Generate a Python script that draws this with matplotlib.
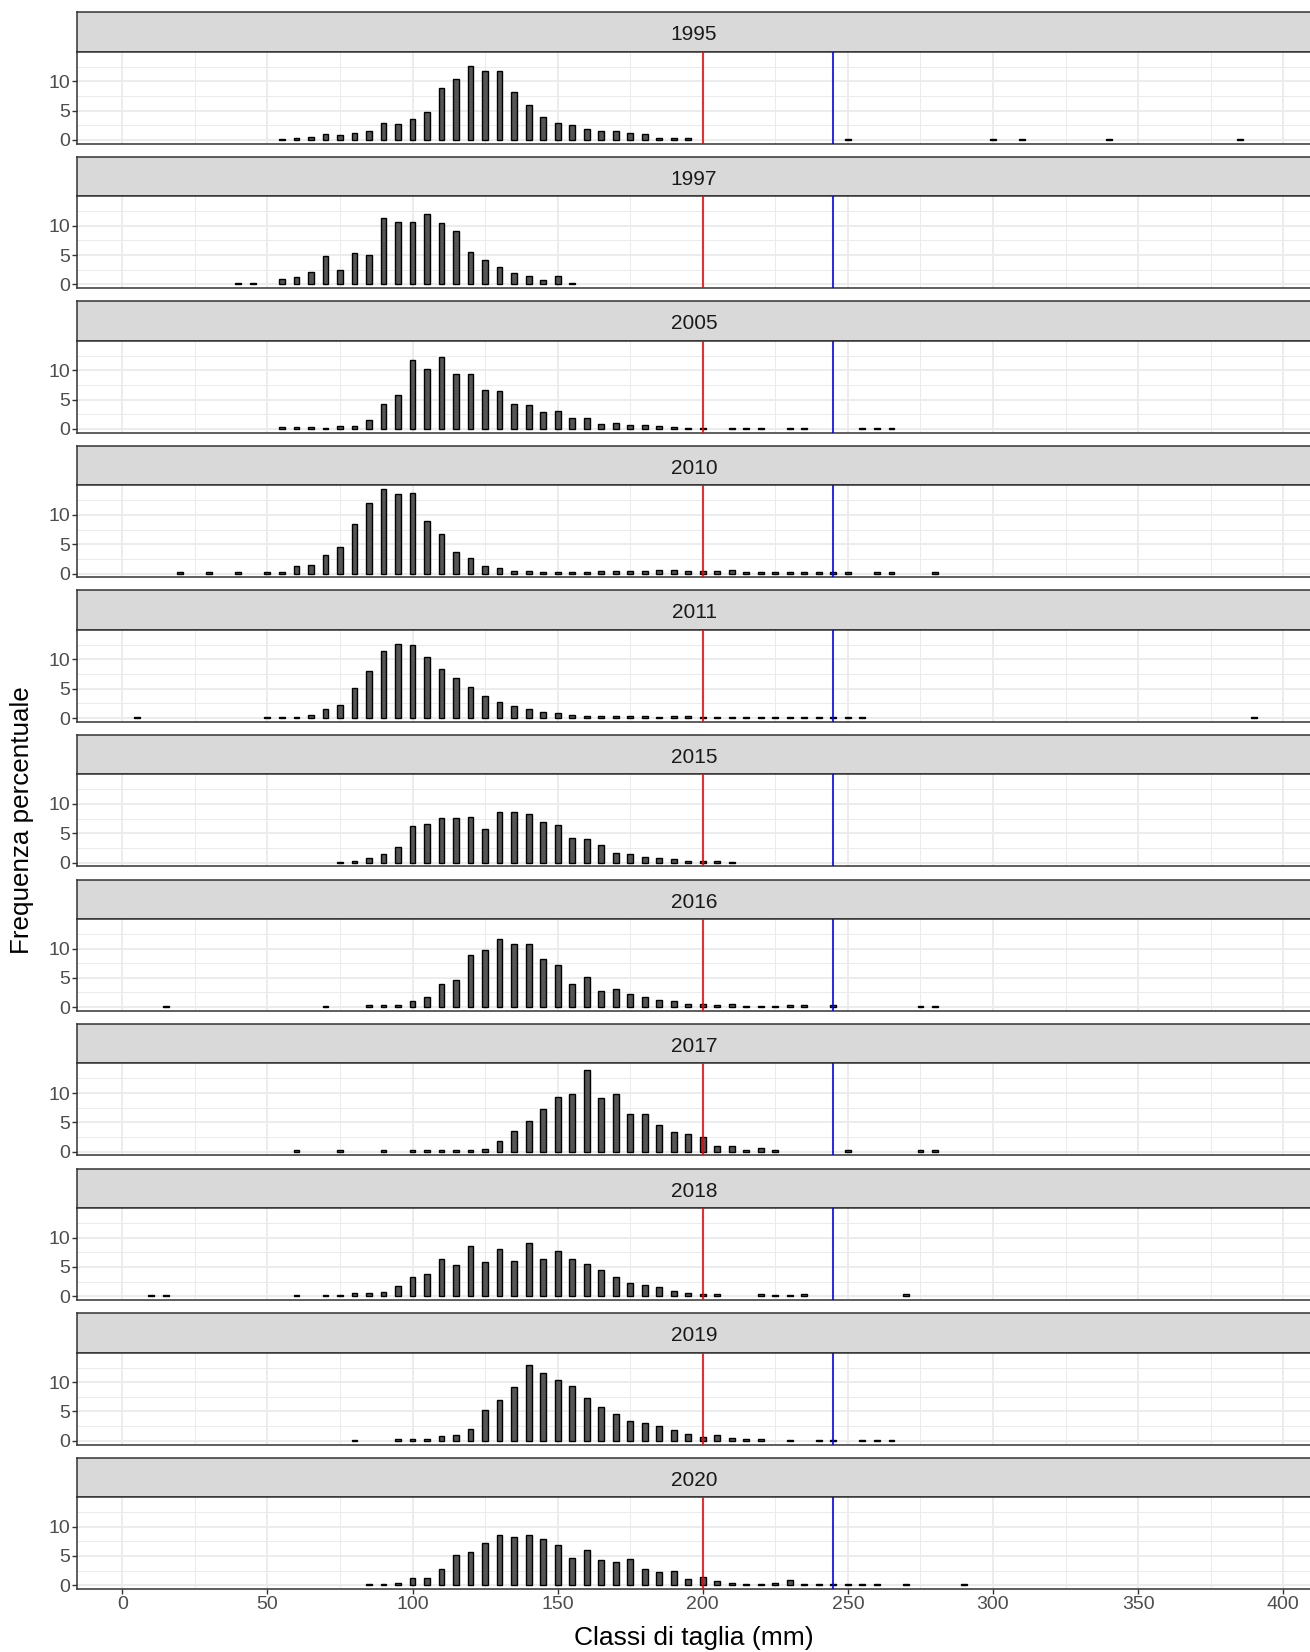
import matplotlib
matplotlib.use("Agg")
import matplotlib.pyplot as plt

# --- dati: classi di taglia (mm) e frequenza percentuale per anno ---
anni = ["1995", "1997", "2005", "2010", "2011", "2015", "2016", "2017", "2018", "2019", "2020"]

classi_1995 = list(range(55, 200, 5)) + [250, 300, 310, 340, 385]
freq_1995 = [0.2, 0.3, 0.5, 1.0, 0.8, 1.2, 1.5, 2.8, 2.7, 3.6, 4.8, 8.8, 10.4, 12.6, 11.8,
             11.8, 8.1, 5.9, 3.9, 2.9, 2.6, 1.8, 1.6, 1.6, 1.1, 1.0, 0.4, 0.4, 0.4,
             0.15, 0.15, 0.15, 0.15, 0.15]

classi_1997 = [40, 45] + list(range(55, 160, 5))
freq_1997 = [0.3, 0.3, 1.0, 1.2, 2.1, 4.8, 2.4, 5.4, 5.0, 11.4, 10.6, 10.7, 12.0, 10.5,
             9.2, 5.6, 4.1, 3.0, 2.0, 1.5, 0.7, 1.5, 0.2]

classi_2005 = list(range(55, 205, 5)) + [210, 215, 220, 230, 235, 255, 260, 265]
freq_2005 = [0.3, 0.3, 0.3, 0.15, 0.45, 0.55, 1.55, 4.3, 5.8, 11.8, 10.3, 12.3, 9.3, 9.4,
             6.6, 6.4, 4.3, 4.1, 2.9, 3.1, 1.9, 1.8, 0.8, 1.0, 0.6, 0.7, 0.5, 0.35, 0.25,
             0.2, 0.2, 0.2, 0.2, 0.2, 0.15, 0.15, 0.15, 0.15]

classi_2010 = [20, 30, 40] + list(range(50, 255, 5)) + [260, 265, 280]
freq_2010 = [0.2, 0.2, 0.2, 0.25, 0.25, 1.2, 1.4, 3.2, 4.5, 8.4, 12.0, 14.5, 13.5, 13.8,
             8.9, 6.8, 3.6, 2.7, 1.25, 0.9, 0.4, 0.5, 0.2, 0.3, 0.3, 0.3, 0.4, 0.5, 0.45,
             0.5, 0.55, 0.55, 0.4, 0.5, 0.4, 0.55, 0.3, 0.3, 0.3, 0.25, 0.3, 0.25, 0.3,
             0.25, 0.2, 0.2, 0.25]

classi_2011 = [5] + list(range(50, 260, 5)) + [390]
freq_2011 = [0.15, 0.2, 0.2, 0.2, 0.6, 1.6, 2.3, 5.1, 8.1, 11.5, 12.6, 12.5, 10.4, 8.4,
             6.9, 5.3, 3.8, 2.8, 2.1, 1.6, 1.1, 0.9, 0.55, 0.4, 0.35, 0.4, 0.35, 0.4,
             0.25, 0.35, 0.35, 0.2, 0.2, 0.2, 0.2, 0.2, 0.2, 0.15, 0.2, 0.2, 0.15, 0.15,
             0.15, 0.15]

classi_2015 = list(range(75, 215, 5))
freq_2015 = [0.1, 0.35, 0.8, 1.4, 2.6, 6.3, 6.6, 7.6, 7.6, 7.8, 5.8, 8.7, 8.6, 8.3, 7.0,
             6.5, 4.2, 4.1, 3.0, 1.6, 1.55, 1.0, 0.8, 0.6, 0.2, 0.2, 0.3, 0.1]

classi_2016 = [15, 70] + list(range(85, 240, 5)) + [245, 275, 280]
freq_2016 = [0.25, 0.25, 0.3, 0.4, 0.4, 1.1, 1.7, 3.9, 4.6, 8.9, 9.7, 11.6, 10.7, 10.8,
             8.2, 7.2, 4.0, 5.1, 2.8, 3.1, 2.3, 1.8, 1.25, 1.1, 0.6, 0.6, 0.4, 0.45, 0.25,
             0.25, 0.25, 0.3, 0.3, 0.4, 0.2, 0.2]

classi_2017 = [60, 75, 90] + list(range(100, 230, 5)) + [250, 275, 280]
freq_2017 = [0.3, 0.3, 0.3, 0.2, 0.3, 0.3, 0.3, 0.3, 0.45, 1.8, 3.5, 5.2, 7.2, 9.3, 9.9,
             13.9, 9.1, 9.9, 6.5, 6.5, 4.6, 3.35, 3.1, 2.55, 0.9, 1.0, 0.3, 0.6, 0.3,
             0.25, 0.2, 0.2]

classi_2018 = [10, 15, 60] + list(range(70, 210, 5)) + [220, 225, 230, 235, 270]
freq_2018 = [0.25, 0.25, 0.2, 0.2, 0.2, 0.5, 0.6, 0.75, 1.8, 3.2, 3.75, 6.4, 5.3, 8.5,
             5.8, 8.0, 6.0, 9.0, 6.4, 7.8, 6.4, 5.45, 4.5, 3.3, 2.3, 1.9, 1.6, 0.9, 0.6,
             0.35, 0.35, 0.3, 0.25, 0.25, 0.3, 0.3]

classi_2019 = [80] + list(range(95, 225, 5)) + [230, 240, 245, 255, 260, 265]
freq_2019 = [0.15, 0.3, 0.3, 0.35, 0.85, 1.0, 2.05, 5.2, 6.9, 9.2, 13.0, 11.5, 10.3, 9.3,
             7.3, 5.7, 4.65, 3.35, 2.95, 2.6, 1.8, 1.1, 0.7, 0.9, 0.5, 0.35, 0.3, 0.15,
             0.15, 0.2, 0.15, 0.15, 0.15]

classi_2020 = list(range(85, 265, 5)) + [270, 290]
freq_2020 = [0.2, 0.3, 0.35, 1.3, 1.3, 2.7, 5.2, 5.75, 7.2, 8.5, 8.2, 8.6, 7.9, 6.9, 4.6,
             6.1, 4.3, 4.0, 4.55, 2.85, 2.3, 2.4, 1.15, 1.4, 0.7, 0.4, 0.25, 0.3, 0.45,
             0.85, 0.3, 0.3, 0.3, 0.3, 0.3, 0.3, 0.25, 0.25]

classi = [classi_1995, classi_1997, classi_2005, classi_2010, classi_2011, classi_2015,
          classi_2016, classi_2017, classi_2018, classi_2019, classi_2020]
freq = [freq_1995, freq_1997, freq_2005, freq_2010, freq_2011, freq_2015,
        freq_2016, freq_2017, freq_2018, freq_2019, freq_2020]

linea_rossa = 200
linea_blu = 245

# --- layout (pixel) ---
W, H = 1310, 1652
LEFT, RIGHT = 77, 1314   # il pannello esce un po' dal bordo destro, come nell'originale
TOP0 = 12.3
PASSO = 144.54
H_STRIP = 39.4
H_TOT = 131.4

plt.rcParams['font.family'] = ['Liberation Sans', 'DejaVu Sans']

fig = plt.figure(figsize=(W / 100, H / 100), dpi=100)
fig.patch.set_facecolor('white')

def box(x0, y_top, x1, y_bot):
    return [x0 / W, 1 - y_bot / H, (x1 - x0) / W, (y_bot - y_top) / H]

for i, anno in enumerate(anni):
    top = TOP0 + i * PASSO
    strip_bot = top + H_STRIP
    bot = top + H_TOT

    # strip con l'anno
    sax = fig.add_axes(box(LEFT, top, RIGHT, strip_bot))
    sax.set_facecolor('#D9D9D9')
    sax.set_xticks([])
    sax.set_yticks([])
    for s in sax.spines.values():
        s.set_color('#333333')
        s.set_linewidth(1.1)
    sax.text((694 - LEFT) / (RIGHT - LEFT), 0.48, anno, transform=sax.transAxes,
             ha='center', va='center_baseline', fontsize=15, color='#1A1A1A')

    # pannello
    ax = fig.add_axes(box(LEFT, strip_bot, RIGHT, bot))
    ax.set_xlim(-15.6, 410.6)
    ax.set_ylim(-0.65, 15.05)
    ax.set_xticks(range(0, 401, 50))
    ax.set_xticks(range(25, 401, 50), minor=True)
    ax.set_yticks([0, 5, 10])
    ax.set_yticks([2.5, 7.5, 12.5], minor=True)
    ax.grid(True, which='major', color='#EBEBEB', linewidth=1.3, zorder=0)
    ax.grid(True, which='minor', color='#EBEBEB', linewidth=0.7, zorder=0)
    ax.set_axisbelow(True)
    for s in ax.spines.values():
        s.set_color('#333333')
        s.set_linewidth(1.1)

    ax.bar(classi[i], freq[i], width=2.0, color='#555555', edgecolor='black',
           linewidth=1.0, zorder=2)
    ax.axvline(linea_rossa, color='red', linewidth=1.2, zorder=3)
    ax.axvline(linea_blu, color='blue', linewidth=1.2, zorder=3)

    ax.tick_params(axis='y', which='major', length=3.5, width=1.0, color='#333333',
                   labelsize=14, labelcolor='#4D4D4D', pad=1.5)
    ax.tick_params(which='minor', length=0)
    if i == len(anni) - 1:
        ax.tick_params(axis='x', which='major', length=3.5, width=1.0, color='#333333',
                       labelsize=14, labelcolor='#4D4D4D', pad=1.5)
    else:
        ax.tick_params(axis='x', which='major', length=0, labelbottom=False)

fig.text(694 / W, 1 - 1645 / H, "Classi di taglia (mm)", ha='center', va='baseline',
         fontsize=19, color='black')
fig.text(22 / W, 1 - 820 / H, "Frequenza percentuale", ha='center', va='center',
         rotation=90, fontsize=18.7, color='black')

fig.savefig("out.png", dpi=100)
